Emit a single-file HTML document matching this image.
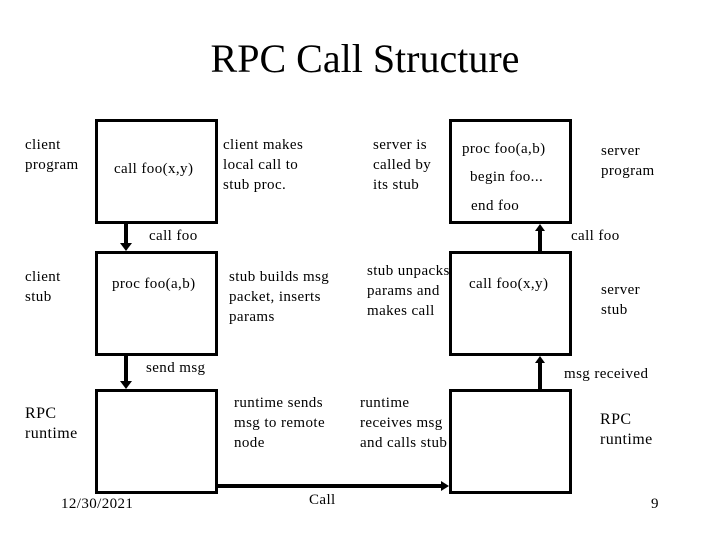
<!DOCTYPE html>
<html><head><style>
body{margin:0;width:720px;height:540px;background:#fff;position:relative;overflow:hidden;font-family:"Liberation Serif",serif;color:#000}
.t{position:absolute;font-size:15px;letter-spacing:0.4px;line-height:20px;white-space:nowrap}
.b{position:absolute;border:3px solid #000;box-sizing:border-box}
</style></head><body>
<div class="t" style="left:0;width:730px;text-align:center;top:35px;font-size:40px;line-height:48px;letter-spacing:0">RPC Call Structure</div>

<div class="b" style="left:95px;top:119px;width:123px;height:105px"></div>
<div class="b" style="left:95px;top:251px;width:123px;height:105px"></div>
<div class="b" style="left:95px;top:389px;width:123px;height:105px"></div>
<div class="b" style="left:449px;top:119px;width:123px;height:105px"></div>
<div class="b" style="left:449px;top:251px;width:123px;height:105px"></div>
<div class="b" style="left:449px;top:389px;width:123px;height:105px"></div>

<svg style="position:absolute;left:0;top:0" width="720" height="540">
<g stroke="#000" stroke-width="4" fill="#000">
<line x1="126" y1="224" x2="126" y2="244"/><polygon points="120,243 132,243 126,251" stroke="none"/>
<line x1="126" y1="356" x2="126" y2="382"/><polygon points="120,381 132,381 126,389" stroke="none"/>
<line x1="540" y1="251" x2="540" y2="230"/><polygon points="535,231 545,231 540,224" stroke="none"/>
<line x1="540" y1="389" x2="540" y2="362"/><polygon points="535,363 545,363 540,356" stroke="none"/>
<line x1="218" y1="486" x2="442" y2="486"/><polygon points="441,481 441,491 449,486" stroke="none"/>
</g></svg>

<div class="t" style="left:25px;top:135px">client<br>program</div>
<div class="t" style="left:114px;top:159px">call foo(x,y)</div>
<div class="t" style="left:223px;top:135px">client makes<br>local call to<br>stub proc.</div>
<div class="t" style="left:149px;top:226px">call foo</div>
<div class="t" style="left:25px;top:267px">client<br>stub</div>
<div class="t" style="left:112px;top:274px">proc foo(a,b)</div>
<div class="t" style="left:229px;top:267px">stub builds msg<br>packet, inserts<br>params</div>
<div class="t" style="left:146px;top:358px">send msg</div>
<div class="t" style="left:25px;top:404px;font-size:16px">RPC<br>runtime</div>
<div class="t" style="left:234px;top:393px">runtime sends<br>msg to remote<br>node</div>
<div class="t" style="left:61px;top:494px">12/30/2021</div>
<div class="t" style="left:309px;top:490px">Call</div>

<div class="t" style="left:373px;top:135px">server is<br>called by<br>its stub</div>
<div class="t" style="left:462px;top:139px">proc foo(a,b)</div>
<div class="t" style="left:470px;top:167px">begin foo...</div>
<div class="t" style="left:471px;top:196px">end foo</div>
<div class="t" style="left:601px;top:141px">server<br>program</div>
<div class="t" style="left:571px;top:226px">call foo</div>
<div class="t" style="left:367px;top:261px">stub unpacks<br>params and<br>makes call</div>
<div class="t" style="left:469px;top:274px">call foo(x,y)</div>
<div class="t" style="left:601px;top:280px">server<br>stub</div>
<div class="t" style="left:564px;top:364px">msg received</div>
<div class="t" style="left:360px;top:393px">runtime<br>receives msg<br>and calls stub</div>
<div class="t" style="left:600px;top:410px;font-size:16px">RPC<br>runtime</div>
<div class="t" style="left:651px;top:494px">9</div>
</body></html>
